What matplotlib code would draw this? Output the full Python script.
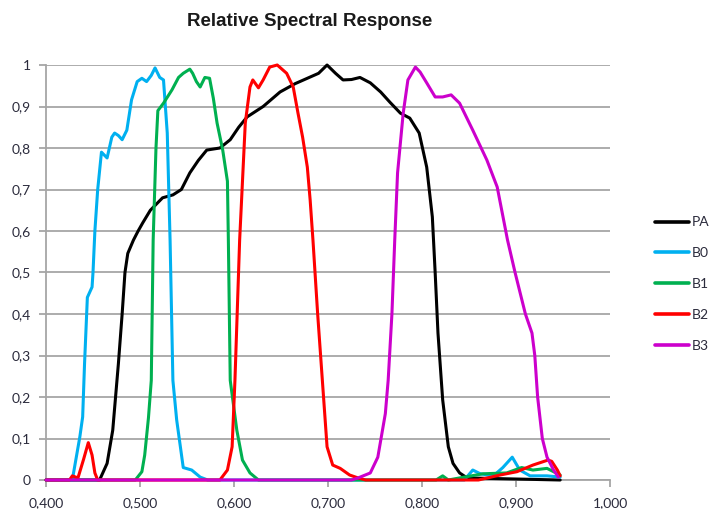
import numpy as np
import matplotlib
matplotlib.use('Agg')
import matplotlib.pyplot as plt
from matplotlib.ticker import FuncFormatter, MultipleLocator

# wavelength (micrometers) and response for each band
pa_x = [0.400, 0.457, 0.465, 0.471, 0.477, 0.481, 0.484, 0.487, 0.493, 0.498, 0.503, 0.511,
        0.524, 0.535, 0.544, 0.553, 0.562, 0.571, 0.585, 0.596, 0.605, 0.614, 0.631, 0.649,
        0.665, 0.678, 0.690, 0.699, 0.708, 0.716, 0.725, 0.734, 0.745, 0.756, 0.766, 0.777,
        0.787, 0.797, 0.805, 0.811, 0.814, 0.817, 0.822, 0.828, 0.833, 0.840, 0.848, 0.947]
pa_y = [0, 0, 0.04, 0.12, 0.28, 0.40, 0.50, 0.546, 0.578, 0.60, 0.62, 0.65,
        0.68, 0.687, 0.70, 0.74, 0.77, 0.795, 0.80, 0.82, 0.85, 0.875, 0.90, 0.935,
        0.955, 0.968, 0.98, 1.0, 0.98, 0.964, 0.965, 0.97, 0.957, 0.935, 0.91, 0.884,
        0.872, 0.836, 0.754, 0.634, 0.50, 0.354, 0.193, 0.08, 0.04, 0.017, 0.005, 0]

b0_x = [0.400, 0.428, 0.436, 0.439, 0.441, 0.444, 0.449, 0.450, 0.452, 0.455, 0.459, 0.465,
        0.470, 0.473, 0.477, 0.481, 0.486, 0.491, 0.497, 0.502, 0.507, 0.512, 0.516, 0.521,
        0.525, 0.529, 0.532, 0.535, 0.539, 0.546, 0.555, 0.564, 0.572, 0.845, 0.854, 0.862,
        0.876, 0.886, 0.896, 0.904, 0.915, 0.933, 0.947]
b0_y = [0, 0, 0.104, 0.152, 0.28, 0.44, 0.465, 0.50, 0.60, 0.70, 0.79, 0.776,
        0.826, 0.836, 0.83, 0.82, 0.843, 0.916, 0.96, 0.968, 0.96, 0.975, 0.993, 0.97,
        0.964, 0.836, 0.578, 0.24, 0.145, 0.03, 0.024, 0.007, 0, 0, 0.024, 0.015,
        0.01, 0.03, 0.055, 0.024, 0.01, 0.01, 0.007]

b1_x = [0.400, 0.495, 0.502, 0.505, 0.509, 0.512, 0.514, 0.517, 0.519, 0.525, 0.534, 0.541,
        0.546, 0.553, 0.556, 0.560, 0.564, 0.569, 0.574, 0.578, 0.582, 0.588, 0.593, 0.594,
        0.596, 0.603, 0.609, 0.617, 0.626, 0.815, 0.822, 0.828, 0.840, 0.865, 0.890, 0.906,
        0.918, 0.933, 0.947]
b1_y = [0, 0, 0.02, 0.06, 0.15, 0.24, 0.578, 0.80, 0.89, 0.908, 0.94, 0.97,
        0.98, 0.99, 0.98, 0.96, 0.947, 0.97, 0.968, 0.92, 0.86, 0.795, 0.72, 0.578,
        0.24, 0.12, 0.048, 0.017, 0, 0, 0.01, 0, 0.005, 0.015, 0.017, 0.03,
        0.024, 0.028, 0.012]

b2_x = [0.400, 0.425, 0.428, 0.434, 0.440, 0.445, 0.449, 0.452, 0.455, 0.585, 0.593, 0.598,
        0.601, 0.606, 0.612, 0.617, 0.620, 0.626, 0.631, 0.638, 0.646, 0.651, 0.656, 0.663,
        0.668, 0.673, 0.678, 0.681, 0.684, 0.689, 0.694, 0.699, 0.705, 0.713, 0.723, 0.732,
        0.740, 0.860, 0.883, 0.901, 0.918, 0.934, 0.938, 0.944, 0.947]
b2_y = [0, 0, 0.01, 0.005, 0.05, 0.09, 0.06, 0.017, 0, 0, 0.024, 0.08,
        0.24, 0.578, 0.86, 0.947, 0.964, 0.945, 0.964, 0.995, 1.0, 0.99, 0.98, 0.947,
        0.885, 0.826, 0.754, 0.675, 0.578, 0.40, 0.24, 0.08, 0.036, 0.028, 0.012, 0.005,
        0, 0, 0.012, 0.02, 0.036, 0.048, 0.045, 0.024, 0.01]

b3_x = [0.400, 0.725, 0.732, 0.745, 0.753, 0.761, 0.764, 0.768, 0.771, 0.774, 0.780, 0.785,
        0.793, 0.798, 0.805, 0.814, 0.822, 0.831, 0.840, 0.854, 0.869, 0.880, 0.891, 0.899,
        0.910, 0.917, 0.920, 0.923, 0.928, 0.933, 0.940, 0.945]
b3_y = [0, 0, 0.005, 0.017, 0.055, 0.16, 0.24, 0.40, 0.578, 0.74, 0.884, 0.964,
        0.995, 0.983, 0.957, 0.923, 0.923, 0.928, 0.908, 0.843, 0.771, 0.706, 0.578, 0.50,
        0.40, 0.354, 0.30, 0.20, 0.10, 0.055, 0.024, 0.007]

series = [('PA', pa_x, pa_y, 'black'),
          ('B0', b0_x, b0_y, '#00B0F0'),
          ('B1', b1_x, b1_y, '#00B050'),
          ('B2', b2_x, b2_y, '#FF0000'),
          ('B3', b3_x, b3_y, '#CC00CC')]

txt_col = '#2b2b3c'
grid_col = '#a6a6a6'

fig = plt.figure(figsize=(7.11, 5.09), dpi=100)
ax = fig.add_axes([46/711, 29/509, 564/711, 415/509])

for i, (name, xs, ys, col) in enumerate(series):
    ax.plot(xs, ys, color=col, lw=2.2, label=name, clip_on=False,
            solid_joinstyle='round', solid_capstyle='round', zorder=3 + i)

ax.set_xlim(0.4, 1.0)
ax.set_ylim(0, 1)
ax.xaxis.set_major_locator(MultipleLocator(0.1))
ax.yaxis.set_major_locator(MultipleLocator(0.1))
ax.xaxis.set_major_formatter(FuncFormatter(lambda v, p: f'{v:.3f}'.replace('.', ',')))


def yfmt(v, p):
    if abs(v) < 1e-9:
        return '0'
    if abs(v - 1) < 1e-9:
        return '1'
    return f'{v:.1f}'.replace('.', ',')


ax.yaxis.set_major_formatter(FuncFormatter(yfmt))

ax.grid(axis='y', color=grid_col, lw=1.3)
ax.set_axisbelow(True)
for s in ['top', 'right']:
    ax.spines[s].set_visible(False)
for s in ['left', 'bottom']:
    ax.spines[s].set_color(grid_col)
    ax.spines[s].set_linewidth(1.3)
ax.tick_params(axis='both', colors=grid_col, labelcolor=txt_col, labelsize=10,
               length=5, width=1.3)
ax.tick_params(axis='y', pad=6)
ax.tick_params(axis='x', pad=7.5)
for lab in ax.get_xticklabels() + ax.get_yticklabels():
    lab.set_fontfamily('Lato')

fig.text(309.5/711, 1 - 22/509, 'Relative Spectral Response', ha='center', va='center',
         fontsize=13.5, fontweight='bold', family='Liberation Sans', color='#1a1a1a')

leg = fig.legend(loc='center left', bbox_to_anchor=(649/711, 1 - 284/509), frameon=False,
                 prop={'family': 'Lato', 'size': 10}, handlelength=2.5,
                 handletextpad=0.2, labelspacing=1.35, borderaxespad=0)
for t in leg.get_texts():
    t.set_color(txt_col)
for h in leg.get_lines():
    h.set_linewidth(2.6)

fig.savefig('out.png', dpi=100)
